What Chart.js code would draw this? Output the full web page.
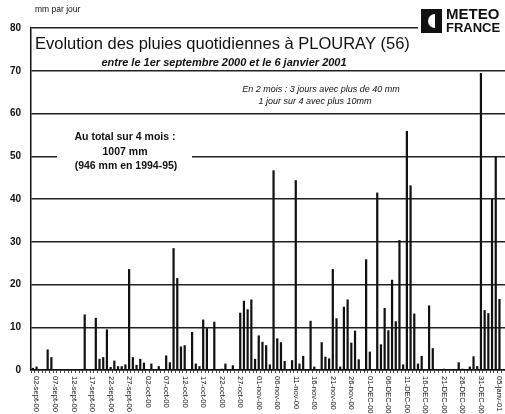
<!DOCTYPE html>
<html>
<head>
<meta charset="utf-8">
<script src="https://cdn.jsdelivr.net/npm/chart.js@4.4.0/dist/chart.umd.min.js"></script>
<style>
  body { margin: 0; background: #fff; }
  #wrap { width: 505px; height: 414px; }
</style>
</head>
<body>
<div id="wrap"><canvas id="rainChart" width="505" height="414"></canvas></div>
<script>
// daily rain in mm, 1 sept 2000 -> 6 janv 2001 (128 days)
const rain = [
  0.5, 0.8, 0, 0, 4.8, 3.0, 0, 0, 0, 0,
  0, 0, 0, 0, 13.0, 0, 0, 12.2, 2.6, 3.0,
  9.5, 0.7, 2.2, 0.9, 0.9, 1.3, 23.6, 3.0, 1.2, 2.6,
  1.7, 0, 1.5, 0, 0.9, 0, 3.4, 1.8, 28.5, 21.5,
  5.5, 5.8, 0, 8.9, 1.5, 0.9, 11.8, 9.8, 0, 11.3,
  0, 0.3, 1.5, 0, 1.1, 0, 13.4, 16.2, 14.2, 16.5,
  2.6, 8.1, 6.6, 5.8, 1.3, 46.7, 7.4, 6.5, 2.1, 0,
  2.3, 44.4, 1.5, 3.3, 0, 11.5, 0.8, 0, 6.5, 3.1,
  2.7, 23.6, 12.1, 0.8, 14.8, 16.5, 6.4, 9.2, 2.5, 0,
  25.9, 4.3, 0, 41.5, 6.0, 14.5, 9.3, 21.1, 11.4, 30.4,
  1.3, 55.9, 43.2, 13.2, 1.5, 3.3, 0, 15.1, 5.1, 0,
  0.2, 0.3, 0.2, 0, 0, 1.8, 0.3, 0, 0.8, 3.2,
  0.9, 69.5, 14.0, 13.3, 40.0, 50.0, 16.6, 0
];

// one label every 5 days, starting 2 sept
const tickLabels = [
  '02-sept-00', '07-sept-00', '12-sept-00', '17-sept-00', '22-sept-00', '27-sept-00',
  '02-oct-00', '07-oct-00', '12-oct-00', '17-oct-00', '22-oct-00', '27-oct-00',
  '01-nov-00', '06-nov-00', '11-nov-00', '16-nov-00', '21-nov-00', '26-nov-00',
  '01-DEC-00', '06-DEC-00', '11-DEC-00', '16-DEC-00', '21-DEC-00', '26-DEC-00',
  '31-DEC-00', '05-janv-01'
];

const yTicks = [0, 10, 20, 30, 40, 50, 60, 70, 80];

const days = rain.map((v, i) => (i % 5 === 1 ? tickLabels[(i - 1) / 5] : ''));

const FONT = '"Liberation Sans", Arial, sans-serif';

const decor = {
    id: 'decor',
    afterDraw(chart) {
        const ctx = chart.ctx;
        const x = chart.scales.x;
        ctx.save();
        ctx.fillStyle = '#111';
        ctx.textBaseline = 'middle';

        ctx.font = '8.5px ' + FONT;
        ctx.textAlign = 'left';
        ctx.fillText('mm par jour', 35, 10);

        ctx.font = '16.5px ' + FONT;
        ctx.fillText('Evolution des pluies quotidiennes à PLOURAY (56)', 35, 44);

        ctx.font = 'italic bold 11px ' + FONT;
        ctx.textAlign = 'center';
        ctx.fillText('entre le 1er septembre 2000 et le 6 janvier 2001', 224, 63);

        ctx.font = 'italic 9px ' + FONT;
        ctx.fillText('En 2 mois : 3 jours avec plus de 40 mm', 321, 89);
        ctx.fillText('1 jour sur 4 avec plus 10mm', 315, 101);

        // box for the total
        ctx.fillStyle = '#fff';
        ctx.fillRect(57, 128, 135, 46);
        ctx.fillStyle = '#111';
        ctx.font = 'bold 10.5px ' + FONT;
        ctx.fillText('Au total sur 4 mois :', 125, 137);
        ctx.fillText('1007 mm', 125, 152);
        ctx.fillText('(946 mm en 1994-95)', 126, 166);

        // logo
        ctx.fillStyle = '#fff';
        ctx.fillRect(418, 0, 87, 35);
        ctx.fillStyle = '#111';
        ctx.fillRect(421, 9, 21, 24);
        ctx.fillStyle = '#fff';
        ctx.beginPath();
        ctx.arc(435, 21, 7, Math.PI / 2, Math.PI * 1.5);
        ctx.fill();
        ctx.fillStyle = '#111';
        ctx.font = 'bold 15px ' + FONT;
        ctx.textAlign = 'left';
        ctx.fillText('METEO', 446, 15);
        ctx.font = 'bold 13px ' + FONT;
        ctx.fillText('FRANCE', 446, 28);

        // rotated date labels
        ctx.font = '7.5px ' + FONT;
        ctx.textAlign = 'left';
        days.forEach((lab, i) => {
            if (!lab) return;
            const px = x.getPixelForValue(i);
            ctx.save();
            ctx.translate(px, 376);
            ctx.rotate(Math.PI / 2);
            ctx.fillText(lab, 0, 0);
            ctx.restore();
        });
        ctx.restore();
    }
};

new Chart(document.getElementById('rainChart'), {
    type: 'bar',
    data: {
        labels: days,
        datasets: [{
            data: rain,
            backgroundColor: '#111',
            barPercentage: 0.6,
            categoryPercentage: 1
        }]
    },
    options: {
        responsive: false,
        animation: false,
        devicePixelRatio: 1,
        layout: { padding: { top: 28, right: 0, left: 0, bottom: 0 } },
        plugins: { legend: { display: false }, tooltip: { enabled: false } },
        scales: {
            x: {
                offset: true,
                ticks: { display: false },
                grid: { display: true, drawOnChartArea: false, drawTicks: true, tickLength: 3, color: '#444', offset: true },
                border: { display: true, color: '#111', width: 1.5 },
                afterFit: s => { s.height = 44; }
            },
            y: {
                min: 0,
                max: 80,
                afterBuildTicks: s => { s.ticks = yTicks.map(v => ({ value: v })); },
                ticks: { color: '#111', font: { family: FONT, size: 10, weight: 'bold' }, padding: 10 },
                grid: { color: '#222', lineWidth: 1.4, drawTicks: false },
                border: { display: true, color: '#111', width: 1.5 },
                afterFit: s => { s.width = 31; }
            }
        }
    },
    plugins: [decor]
});
</script>
</body>
</html>
